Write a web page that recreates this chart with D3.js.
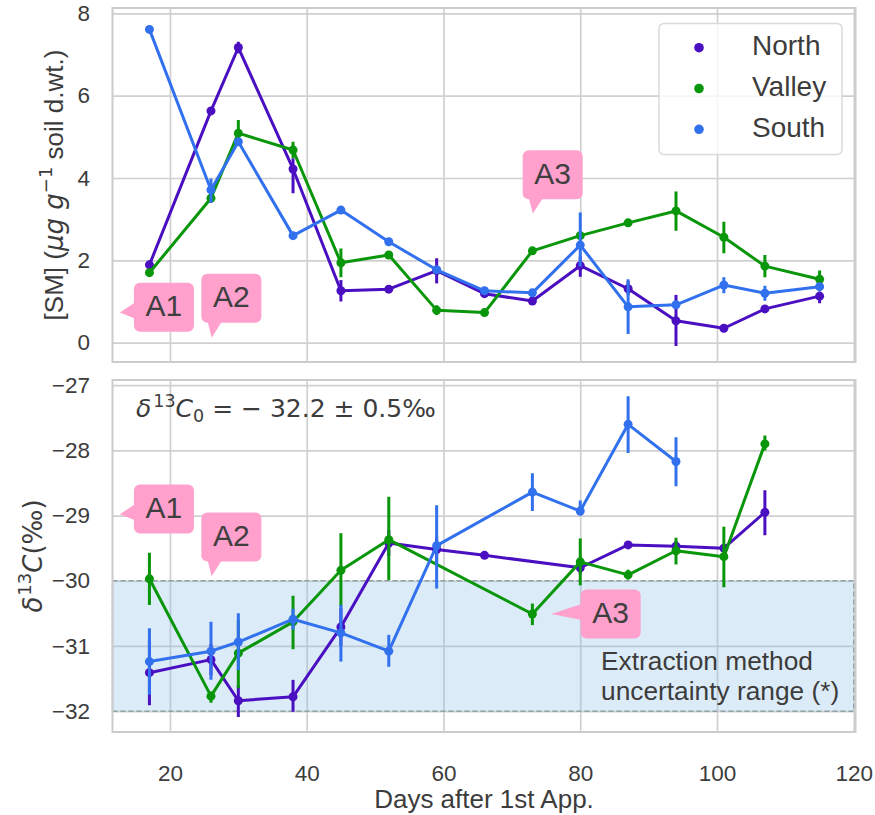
<!DOCTYPE html>
<html><head><meta charset="utf-8">
<script src="https://cdn.jsdelivr.net/npm/d3@7"></script>
<style>body{margin:0;background:#fff} svg{display:block}</style>
</head><body>
<svg id="chart" width="875" height="815"></svg>
<script>
// ---------------- DATA ----------------
const days = [17,26,30,38,45,52,59,66,73,80,87,94,101,107,115];
const seriesNames = ["North","Valley","South"];
const seriesColors = ["#4a0fc0","#0a960a","#3271ee"];

// Top panel: [SM] (µg g-1 soil d.wt.)
const smNorth   = [1.89,5.63,7.17,4.22,1.26,1.30,1.75,1.19,1.01,1.87,1.31,0.53,0.35,0.82,1.13];
const smNorthLo = [1.81,5.55,7.03,3.63,1.00,1.24,1.44,1.13,0.95,1.60,1.15,-0.08,0.29,0.76,0.96];
const smNorthHi = [1.99,5.70,7.31,4.48,1.52,1.36,2.05,1.25,1.07,2.10,1.50,1.16,0.41,0.88,1.24];
const smValley   = [1.70,3.51,5.09,4.68,1.94,2.13,0.79,0.73,2.23,2.60,2.91,3.20,2.56,1.86,1.54];
const smValleyLo = [1.62,3.45,4.85,4.48,1.59,2.07,0.67,0.67,2.17,2.54,2.85,2.72,2.17,1.59,1.36];
const smValleyHi = [1.78,3.57,5.41,4.88,2.29,2.19,0.91,0.79,2.29,2.66,2.97,3.67,2.94,2.13,1.75];
const smSouth   = [7.61,3.71,4.88,2.60,3.22,2.45,1.77,1.26,1.21,2.37,0.87,0.92,1.40,1.20,1.36];
const smSouthLo = [7.55,3.39,4.82,2.54,3.16,2.39,1.71,1.20,1.15,1.85,0.21,0.82,1.20,1.02,1.26];
const smSouthHi = [7.67,3.99,4.94,2.66,3.28,2.51,1.83,1.32,1.27,3.16,1.54,1.02,1.59,1.38,1.46];

// Bottom panel: delta13C (permil)
const dcNorth   = [-31.41,-31.21,-31.84,-31.78,-30.71,-29.42,-29.52,-29.61,null,-29.80,-29.45,-29.47,-29.50,-28.95,null];
const dcNorthLo = [-31.91,-31.45,-32.09,-32.01,-31.00,-29.62,-29.72,-29.66,null,-29.90,-29.50,-29.55,-29.55,-29.30,null];
const dcNorthHi = [-30.91,-30.97,-31.60,-31.52,-30.42,-29.22,-29.32,-29.56,null,-29.70,-29.40,-29.39,-29.45,-28.61,null];
const dcValley   = [-29.97,-31.77,-31.11,-30.63,-29.84,-29.37,null,null,-30.51,-29.71,-29.91,-29.54,-29.63,-27.90,null];
const dcValleyLo = [-30.37,-31.87,-31.65,-31.05,-30.40,-29.99,null,null,-30.68,-30.07,-29.98,-29.75,-30.10,-28.00,null];
const dcValleyHi = [-29.57,-31.70,-30.60,-30.23,-29.27,-28.71,null,null,-30.35,-29.35,-29.83,-29.34,-29.17,-27.77,null];
const dcSouth   = [-31.24,-31.08,-30.94,-30.59,-30.80,-31.08,-29.46,null,-28.64,-28.93,-27.60,-28.17,null,null,null];
const dcSouthLo = [-31.75,-31.52,-31.37,-30.75,-31.24,-31.32,-30.12,null,-28.93,-29.00,-28.04,-28.55,null,null,null];
const dcSouthHi = [-30.73,-30.63,-30.50,-30.43,-30.37,-30.83,-28.84,null,-28.35,-28.77,-27.17,-27.80,null,null,null];

const xTicks = [20,40,60,80,100,120];
const smTicks = [0,2,4,6,8];
const dcTicks = [-32,-31,-30,-29,-28,-27];
const bandRange = [-32,-30];
const bandLabel = ["Extraction method","uncertainty range (*)"];

const annoLabels = ["A1","A2","A3"];
const annoTopText = [[19.12,0.86],[28.98,1.08],[75.97,4.08]];
const annoTopTip  = [[12.68,0.73],[26.10,0.12],[73.07,3.14]];
const annoBotText = [[19.12,-28.90],[28.98,-29.33],[84.44,-30.51]];
const annoBotTip  = [[12.68,-28.98],[26.10,-29.93],[75.75,-30.51]];

// ---------------- DRAW ----------------
const svg = d3.select("#chart");
const SANS = "'Liberation Sans', Arial, sans-serif";
const MATH = "'DejaVu Sans', sans-serif";
const TXT = "#3c3c3c";
const fmt = d3.format("d");

const x = d3.scaleLinear().domain([11.6,120.25]).range([112.5,855.5]);
const L = 112.5, R = 855.5;

const panels = [
  {y: d3.scaleLinear().domain([-0.47,8.13]).range([362,8]), ticks: smTicks,
   data: [[smNorth,smNorthLo,smNorthHi],[smValley,smValleyLo,smValleyHi],[smSouth,smSouthLo,smSouthHi]],
   annoText: annoTopText, annoTip: annoTopTip, xLabels:false},
  {y: d3.scaleLinear().domain([-32.32,-26.92]).range([732,380]), ticks: dcTicks,
   data: [[dcNorth,dcNorthLo,dcNorthHi],[dcValley,dcValleyLo,dcValleyHi],[dcSouth,dcSouthLo,dcSouthHi]],
   annoText: annoBotText, annoTip: annoBotTip, xLabels:true}
];

panels.forEach((p, pi) => {
  const y = p.y;
  const [T, B] = [y.range()[1], y.range()[0]];
  const g = svg.append("g");
  const clipId = "clip" + pi;
  svg.append("clipPath").attr("id", clipId).append("rect")
    .attr("x", L).attr("y", T).attr("width", R - L).attr("height", B - T);

  // grid
  const gx = g.append("g").attr("transform", `translate(0,${B})`)
    .call(d3.axisBottom(x).tickValues(xTicks).tickSize(-(B - T)).tickFormat(""));
  const gy = g.append("g").attr("transform", `translate(${L},0)`)
    .call(d3.axisLeft(y).tickValues(p.ticks).tickSize(-(R - L)).tickFormat(""));
  [gx, gy].forEach(a => {
    a.select(".domain").remove();
    a.selectAll("line").attr("stroke", "#d0d0d0").attr("stroke-width", 1.7);
  });

  // uncertainty band
  if (pi === 1) {
    g.append("rect")
      .attr("x", x(x.domain()[0])).attr("width", x(120) - x(x.domain()[0]))
      .attr("y", y(bandRange[1])).attr("height", y(bandRange[0]) - y(bandRange[1]))
      .attr("fill", "rgb(142,190,232)").attr("fill-opacity", 0.31)
      .attr("stroke", "#8fa2a2").attr("stroke-width", 1.5).attr("stroke-dasharray", "5,3");
    const t = g.append("text").attr("font-family", SANS).attr("font-size", 26.3)
      .attr("fill", TXT);
    bandLabel.forEach((s, i) => t.append("tspan").attr("x", 601).attr("y", 670 + i * 30).text(s));
  }

  // y tick labels
  const ya = g.append("g").attr("transform", `translate(${L},0)`)
    .call(d3.axisLeft(y).tickValues(p.ticks).tickSize(0).tickPadding(22.5).tickFormat(fmt));
  ya.select(".domain").remove();
  ya.selectAll("text").attr("font-family", SANS).attr("font-size", 22.5).attr("fill", TXT);

  if (p.xLabels) {
    const xa = g.append("g").attr("transform", `translate(0,${B})`)
      .call(d3.axisBottom(x).tickValues(xTicks).tickSize(0).tickPadding(33).tickFormat(fmt));
    xa.select(".domain").remove();
    xa.selectAll("text").attr("font-family", SANS).attr("font-size", 22.5).attr("fill", TXT);
  }

  // spines
  g.append("rect").attr("x", L).attr("y", T).attr("width", R - L).attr("height", B - T)
    .attr("fill", "none").attr("stroke", "#cccccc").attr("stroke-width", 2);

  // series
  const sg = g.append("g").attr("clip-path", `url(#${clipId})`);
  p.data.forEach(([vals, lo, hi], si) => {
    const col = seriesColors[si];
    const pts = days.map((d, i) => ({d, v: vals[i], lo: lo[i], hi: hi[i]})).filter(q => q.v != null);
    sg.append("path").datum(pts)
      .attr("d", d3.line().x(q => x(q.d)).y(q => y(q.v)))
      .attr("fill", "none").attr("stroke", col).attr("stroke-width", 3)
      .attr("stroke-linejoin", "round");
    sg.selectAll(null).data(pts).join("line")
      .attr("x1", q => x(q.d)).attr("x2", q => x(q.d))
      .attr("y1", q => y(q.lo)).attr("y2", q => y(q.hi))
      .attr("stroke", col).attr("stroke-width", 3);
    sg.selectAll(null).data(pts).join("circle")
      .attr("cx", q => x(q.d)).attr("cy", q => y(q.v)).attr("r", 4.5).attr("fill", col);
  });

  // annotations (callouts)
  annoLabels.forEach((lab, i) => {
    const cx = x(p.annoText[i][0]), cy = y(p.annoText[i][1]);
    const tx = x(p.annoTip[i][0]), ty = y(p.annoTip[i][1]);
    const w = 60, h = 49, bx = cx - w / 2, by = cy - h / 2;
    const ag = g.append("g");
    ag.append("rect").attr("x", bx).attr("y", by).attr("width", w).attr("height", h)
      .attr("rx", 6).attr("fill", "#ffa0cd");
    let tri;
    if (tx < bx) {
      const m = Math.max(by + 10, Math.min(by + h - 10, ty - 2));
      tri = [[bx + 1, m - 8], [tx, ty], [bx + 1, m + 8]];
    } else if (ty > by + h) {
      const m = Math.max(bx + 10, Math.min(bx + w - 10, tx + 3));
      tri = [[m - 7, by + h - 1], [tx, ty], [m + 7, by + h - 1]];
    } else {
      tri = [[bx, by], [tx, ty], [bx, by]];
    }
    ag.append("path").attr("d", "M" + tri.map(c => c.join(",")).join("L") + "Z").attr("fill", "#ffa0cd");
    ag.append("text").attr("x", cx).attr("y", cy + 9).attr("text-anchor", "middle")
      .attr("font-family", SANS).attr("font-size", 30).attr("fill", "#3f3f3f").text(lab);
  });
});

// delta13C0 text
{
  const t = svg.append("text").attr("x", 136).attr("y", 417)
    .attr("font-family", MATH).attr("font-size", 25).attr("fill", TXT);
  t.append("tspan").attr("font-style", "italic").text("δ");
  t.append("tspan").attr("font-size", 17.5).attr("dy", -10).attr("dx", 2).text("13");
  t.append("tspan").attr("font-style", "italic").attr("dy", 10).text("C");
  t.append("tspan").attr("font-size", 17.5).attr("dy", 5).text("0");
  t.append("tspan").attr("dy", -5).text(" = − 32.2 ± 0.5‰");
}

// legend
{
  const lg = svg.append("g");
  lg.append("rect").attr("x", 659).attr("y", 23.5).attr("width", 183).attr("height", 131)
    .attr("rx", 5).attr("fill", "#fff").attr("fill-opacity", 0.8)
    .attr("stroke", "#d6dcdc").attr("stroke-width", 1.5);
  seriesNames.forEach((n, i) => {
    const yy = 47.7 + i * 40.8;
    lg.append("circle").attr("cx", 699).attr("cy", yy).attr("r", 4.8).attr("fill", seriesColors[i]);
    lg.append("text").attr("x", 752).attr("y", yy + 7.5).attr("font-family", SANS)
      .attr("font-size", 28).attr("fill", TXT).text(n);
  });
}

// axis labels
svg.append("text").attr("x", (L + R) / 2).attr("y", 808).attr("text-anchor", "middle")
  .attr("font-family", SANS).attr("font-size", 26).attr("fill", TXT).text("Days after 1st App.");

{
  const t = svg.append("text").attr("transform", "translate(63,185) rotate(-90)")
    .attr("text-anchor", "middle").attr("font-family", SANS).attr("font-size", 26).attr("fill", TXT);
  t.append("tspan").text("[SM] (");
  t.append("tspan").attr("font-family", MATH).attr("font-style", "italic").text("µg g");
  t.append("tspan").attr("font-family", MATH).attr("font-size", 18).attr("dy", -11).text("−1");
  t.append("tspan").attr("dy", 11).text(" soil d.wt.)");
}
{
  const t = svg.append("text").attr("transform", "translate(42,556) rotate(-90)")
    .attr("text-anchor", "middle").attr("font-family", MATH).attr("font-size", 26).attr("fill", TXT);
  t.append("tspan").attr("font-style", "italic").text("δ");
  t.append("tspan").attr("font-size", 18).attr("dy", -11).attr("dx", 1).text("13");
  t.append("tspan").attr("font-style", "italic").attr("dy", 11).text("C");
  t.append("tspan").text("(‰)");
}
</script>
</body></html>
